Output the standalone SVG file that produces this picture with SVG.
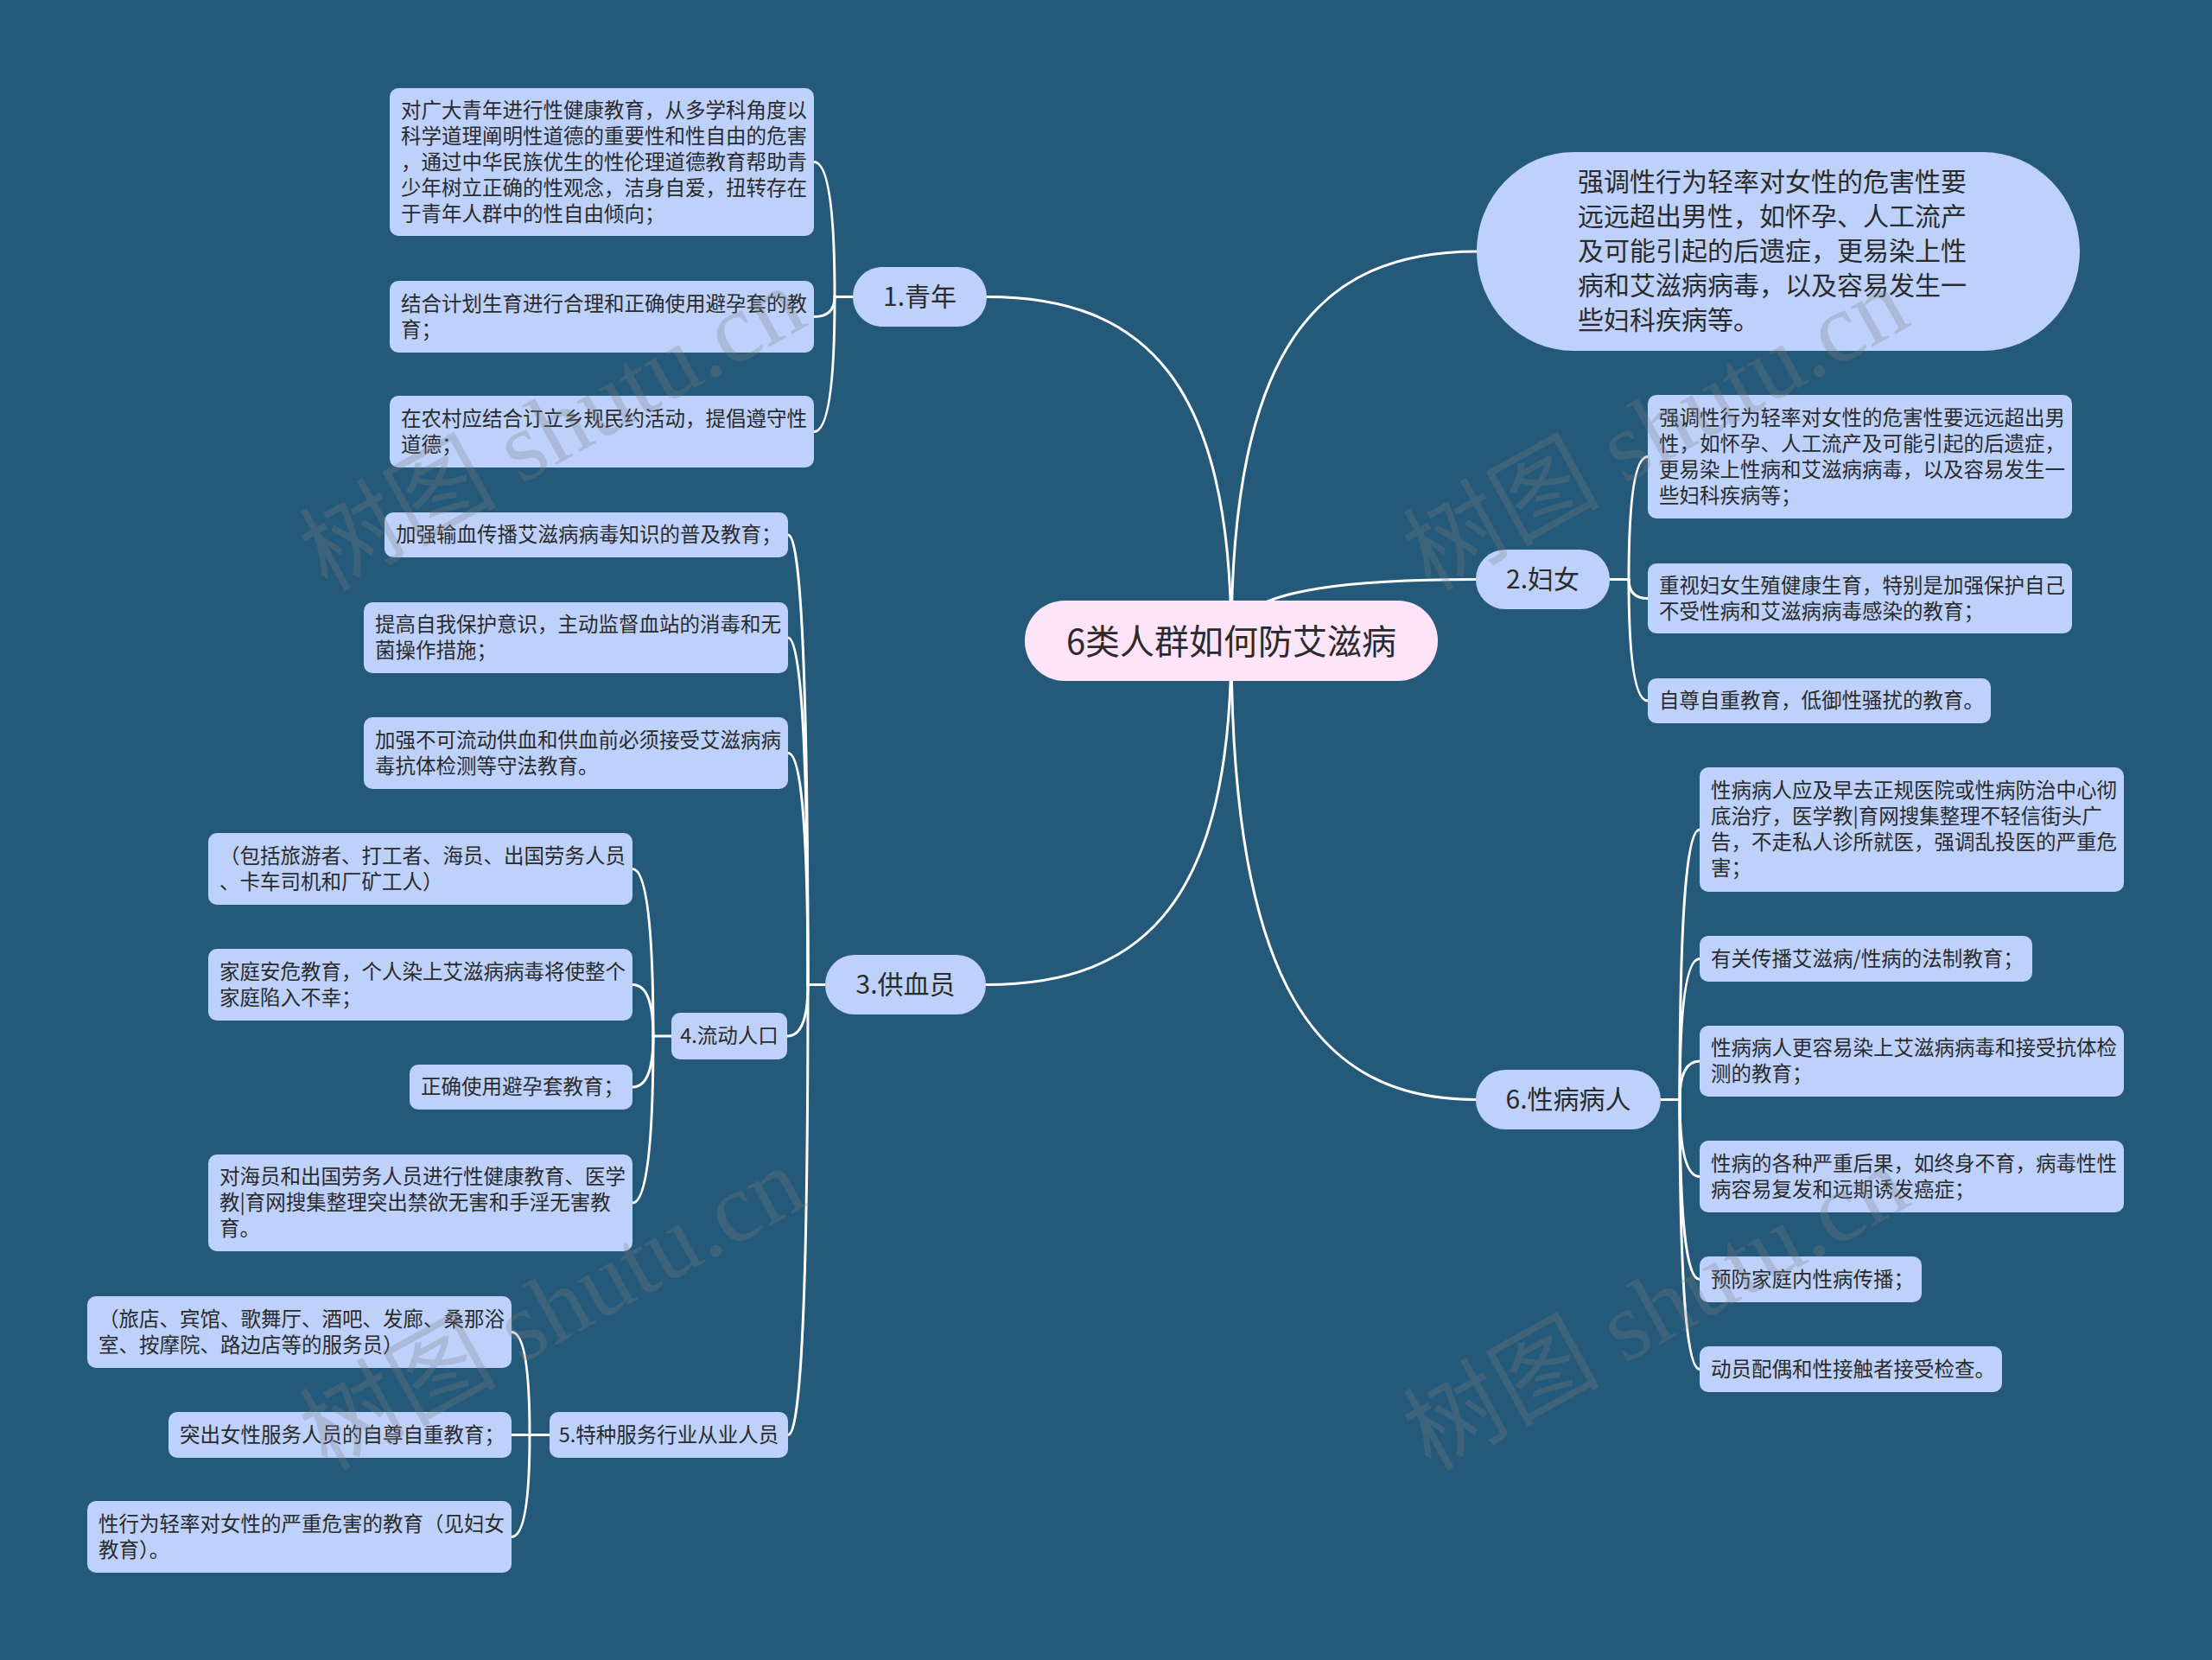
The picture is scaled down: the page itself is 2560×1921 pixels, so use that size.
<svg xmlns="http://www.w3.org/2000/svg" width="2560" height="1921" viewBox="0 0 2560 1921">
<style>
.bg{fill:#24597a}
.n{fill:#bdd1fb}
.root{fill:#fde4f8}
.t{font-family:"Noto Sans CJK SC","Noto Sans",sans-serif;fill:#2b2b2b;dominant-baseline:central;transform:translate(0px,-3px)}
.s{font-size:23.5px}
.m{font-size:30px;text-anchor:middle}
.c{fill:none;stroke:#ffffff;stroke-width:3;stroke-linecap:round}
.wm{font-family:"Liberation Serif","Noto Sans CJK SC",serif;font-size:114px;fill:#808080;opacity:0.28}
</style>
<rect class="bg" x="0" y="0" width="2560" height="1921"/>
<g id="connectors">
<path class="c" d="M1425,743 C1425,443 1326,343.5 1142,343.5"/>
<path class="c" d="M1425,743 C1425,404 1524,291 1709,291"/>
<path class="c" d="M1425,743 C1425,689 1524,670.5 1708,670.5"/>
<path class="c" d="M1425,743 C1425,1040 1326,1139.5 1141,1139.5"/>
<path class="c" d="M1425,743 C1425,1140 1524,1272.5 1708,1272.5"/>
<path class="c" d="M987,343.5 L966,343.5"/>
<path class="c" d="M966,343.5 Q966,187.5 942,187.5"/>
<path class="c" d="M966,343.5 Q966,366.5 942,366.5"/>
<path class="c" d="M966,343.5 Q966,499.5 942,499.5"/>
<path class="c" d="M955,1139.5 L935,1139.5"/>
<path class="c" d="M935,1139.5 Q935,619 912,619"/>
<path class="c" d="M935,1139.5 Q935,738 912,738"/>
<path class="c" d="M935,1139.5 Q935,871.5 912,871.5"/>
<path class="c" d="M935,1139.5 Q935,1199 911,1199"/>
<path class="c" d="M935,1139.5 Q935,1660.5 912,1660.5"/>
<path class="c" d="M777,1199 L756,1199"/>
<path class="c" d="M756,1199 Q756,1005.5 732,1005.5"/>
<path class="c" d="M756,1199 Q756,1139.5 732,1139.5"/>
<path class="c" d="M756,1199 Q756,1258 732,1258"/>
<path class="c" d="M756,1199 Q756,1392 732,1392"/>
<path class="c" d="M636,1660.5 L613,1660.5"/>
<path class="c" d="M613,1660.5 Q613,1541.5 592,1541.5"/>
<path class="c" d="M613,1660.5 L592,1660.5"/>
<path class="c" d="M613,1660.5 Q613,1778.5 592,1778.5"/>
<path class="c" d="M1863,670.5 L1885,670.5"/>
<path class="c" d="M1885,670.5 Q1885,528.5 1907,528.5"/>
<path class="c" d="M1885,670.5 Q1885,692.5 1907,692.5"/>
<path class="c" d="M1885,670.5 Q1885,811 1907,811"/>
<path class="c" d="M1922,1272.5 L1944,1272.5"/>
<path class="c" d="M1944,1272.5 Q1944,960 1967,960"/>
<path class="c" d="M1944,1272.5 Q1944,1109.5 1967,1109.5"/>
<path class="c" d="M1944,1272.5 Q1944,1228 1967,1228"/>
<path class="c" d="M1944,1272.5 Q1944,1361.5 1967,1361.5"/>
<path class="c" d="M1944,1272.5 Q1944,1480.5 1967,1480.5"/>
<path class="c" d="M1944,1272.5 Q1944,1584.5 1967,1584.5"/>
</g>
<g id="root">
<rect class="root" x="1186" y="695" width="478" height="93" rx="46"/>
<text class="t" x="1425" y="743" font-size="40" text-anchor="middle">6类人群如何防艾滋病</text>
</g>
<g id="n1">
<rect class="n" x="987" y="309" width="155" height="69" rx="34"/>
<text class="t m" x="1064.5" y="344">1.青年</text>
</g>
<g id="n2">
<rect class="n" x="1708" y="636" width="155" height="69" rx="34"/>
<text class="t m" x="1785.5" y="671">2.妇女</text>
</g>
<g id="n3">
<rect class="n" x="955" y="1105" width="186" height="69" rx="34"/>
<text class="t m" x="1048" y="1140">3.供血员</text>
</g>
<g id="n6">
<rect class="n" x="1708" y="1238" width="214" height="69" rx="34"/>
<text class="t m" x="1815" y="1273">6.性病病人</text>
</g>
<g id="bubble">
<rect class="n" x="1709" y="176" width="698" height="230" rx="112" ry="115"/>
<text class="t" x="1826" y="211" font-size="30">强调性行为轻率对女性的危害性要</text>
<text class="t" x="1826" y="251" font-size="30">远远超出男性，如怀孕、人工流产</text>
<text class="t" x="1826" y="291" font-size="30">及可能引起的后遗症，更易染上性</text>
<text class="t" x="1826" y="331" font-size="30">病和艾滋病病毒，以及容易发生一</text>
<text class="t" x="1826" y="371" font-size="30">些妇科疾病等。</text>
</g>
<g id="y1">
<rect class="n" x="451" y="102" width="491" height="171" rx="10"/>
<text class="t s" x="464" y="128.5">对广大青年进行性健康教育，从多学科角度以</text>
<text class="t s" x="464" y="158.5">科学道理阐明性道德的重要性和性自由的危害</text>
<text class="t s" x="464" y="188.5">，通过中华民族优生的性伦理道德教育帮助青</text>
<text class="t s" x="464" y="218.5">少年树立正确的性观念，洁身自爱，扭转存在</text>
<text class="t s" x="464" y="248.5">于青年人群中的性自由倾向；</text>
</g>
<g id="y2">
<rect class="n" x="451" y="325" width="491" height="83" rx="10"/>
<text class="t s" x="464" y="352.5">结合计划生育进行合理和正确使用避孕套的教</text>
<text class="t s" x="464" y="382.5">育；</text>
</g>
<g id="y3">
<rect class="n" x="451" y="458" width="491" height="83" rx="10"/>
<text class="t s" x="464" y="485.5">在农村应结合订立乡规民约活动，提倡遵守性</text>
<text class="t s" x="464" y="515.5">道德；</text>
</g>
<g id="g1">
<rect class="n" x="445" y="593" width="467" height="52" rx="10"/>
<text class="t s" x="458" y="620">加强输血传播艾滋病病毒知识的普及教育；</text>
</g>
<g id="g2">
<rect class="n" x="421" y="697" width="491" height="82" rx="10"/>
<text class="t s" x="434" y="724">提高自我保护意识，主动监督血站的消毒和无</text>
<text class="t s" x="434" y="754">菌操作措施；</text>
</g>
<g id="g3">
<rect class="n" x="421" y="830" width="491" height="83" rx="10"/>
<text class="t s" x="434" y="857.5">加强不可流动供血和供血前必须接受艾滋病病</text>
<text class="t s" x="434" y="887.5">毒抗体检测等守法教育。</text>
</g>
<g id="n4">
<rect class="n" x="777" y="1172" width="134" height="54" rx="10"/>
<text class="t" x="844" y="1200" font-size="23.5" text-anchor="middle">4.流动人口</text>
</g>
<g id="l1">
<rect class="n" x="241" y="964" width="491" height="83" rx="10"/>
<text class="t s" x="254" y="991.5">（包括旅游者、打工者、海员、出国劳务人员</text>
<text class="t s" x="254" y="1021.5">、卡车司机和厂矿工人）</text>
</g>
<g id="l2">
<rect class="n" x="241" y="1098" width="491" height="83" rx="10"/>
<text class="t s" x="254" y="1125.5">家庭安危教育，个人染上艾滋病病毒将使整个</text>
<text class="t s" x="254" y="1155.5">家庭陷入不幸；</text>
</g>
<g id="l3">
<rect class="n" x="474" y="1232" width="258" height="52" rx="10"/>
<text class="t s" x="487" y="1259">正确使用避孕套教育；</text>
</g>
<g id="l4">
<rect class="n" x="241" y="1336" width="491" height="112" rx="10"/>
<text class="t s" x="254" y="1363">对海员和出国劳务人员进行性健康教育、医学</text>
<text class="t s" x="254" y="1393">教|育网搜集整理突出禁欲无害和手淫无害教</text>
<text class="t s" x="254" y="1423">育。</text>
</g>
<g id="n5">
<rect class="n" x="636" y="1634" width="276" height="53" rx="10"/>
<text class="t" x="774" y="1661.5" font-size="23.5" text-anchor="middle">5.特种服务行业从业人员</text>
</g>
<g id="s1">
<rect class="n" x="101" y="1500" width="491" height="83" rx="10"/>
<text class="t s" x="114" y="1527.5">（旅店、宾馆、歌舞厅、酒吧、发廊、桑那浴</text>
<text class="t s" x="114" y="1557.5">室、按摩院、路边店等的服务员）</text>
</g>
<g id="s2">
<rect class="n" x="195" y="1634" width="397" height="53" rx="10"/>
<text class="t s" x="208" y="1661.5">突出女性服务人员的自尊自重教育；</text>
</g>
<g id="s3">
<rect class="n" x="101" y="1737" width="491" height="83" rx="10"/>
<text class="t s" x="114" y="1764.5">性行为轻率对女性的严重危害的教育（见妇女</text>
<text class="t s" x="114" y="1794.5">教育）。</text>
</g>
<g id="w1">
<rect class="n" x="1907" y="457" width="491" height="143" rx="10"/>
<text class="t s" x="1920" y="484.5">强调性行为轻率对女性的危害性要远远超出男</text>
<text class="t s" x="1920" y="514.5">性，如怀孕、人工流产及可能引起的后遗症，</text>
<text class="t s" x="1920" y="544.5">更易染上性病和艾滋病病毒，以及容易发生一</text>
<text class="t s" x="1920" y="574.5">些妇科疾病等；</text>
</g>
<g id="w2">
<rect class="n" x="1907" y="652" width="491" height="81" rx="10"/>
<text class="t s" x="1920" y="678.5">重视妇女生殖健康生育，特别是加强保护自己</text>
<text class="t s" x="1920" y="708.5">不受性病和艾滋病病毒感染的教育；</text>
</g>
<g id="w3">
<rect class="n" x="1907" y="785" width="397" height="52" rx="10"/>
<text class="t s" x="1920" y="812">自尊自重教育，低御性骚扰的教育。</text>
</g>
<g id="x1">
<rect class="n" x="1967" y="888" width="491" height="144" rx="10"/>
<text class="t s" x="1980" y="916">性病病人应及早去正规医院或性病防治中心彻</text>
<text class="t s" x="1980" y="946">底治疗，医学教|育网搜集整理不轻信街头广</text>
<text class="t s" x="1980" y="976">告，不走私人诊所就医，强调乱投医的严重危</text>
<text class="t s" x="1980" y="1006">害；</text>
</g>
<g id="x2">
<rect class="n" x="1967" y="1083" width="385" height="53" rx="10"/>
<text class="t s" x="1980" y="1110.5">有关传播艾滋病/性病的法制教育；</text>
</g>
<g id="x3">
<rect class="n" x="1967" y="1187" width="491" height="82" rx="10"/>
<text class="t s" x="1980" y="1214">性病病人更容易染上艾滋病病毒和接受抗体检</text>
<text class="t s" x="1980" y="1244">测的教育；</text>
</g>
<g id="x4">
<rect class="n" x="1967" y="1320" width="491" height="83" rx="10"/>
<text class="t s" x="1980" y="1347.5">性病的各种严重后果，如终身不育，病毒性性</text>
<text class="t s" x="1980" y="1377.5">病容易复发和远期诱发癌症；</text>
</g>
<g id="x5">
<rect class="n" x="1967" y="1454" width="257" height="53" rx="10"/>
<text class="t s" x="1980" y="1481.5">预防家庭内性病传播；</text>
</g>
<g id="x6">
<rect class="n" x="1967" y="1558" width="350" height="53" rx="10"/>
<text class="t s" x="1980" y="1585.5">动员配偶和性接触者接受检查。</text>
</g>
<g id="watermarks">
<text class="wm" x="658" y="530" text-anchor="middle" transform="rotate(-29 658 530)">树图 shutu.cn</text>
<text class="wm" x="1935" y="530" text-anchor="middle" transform="rotate(-29 1935 530)">树图 shutu.cn</text>
<text class="wm" x="658" y="1548" text-anchor="middle" transform="rotate(-29 658 1548)">树图 shutu.cn</text>
<text class="wm" x="1935" y="1548" text-anchor="middle" transform="rotate(-29 1935 1548)">树图 shutu.cn</text>
</g>
</svg>
